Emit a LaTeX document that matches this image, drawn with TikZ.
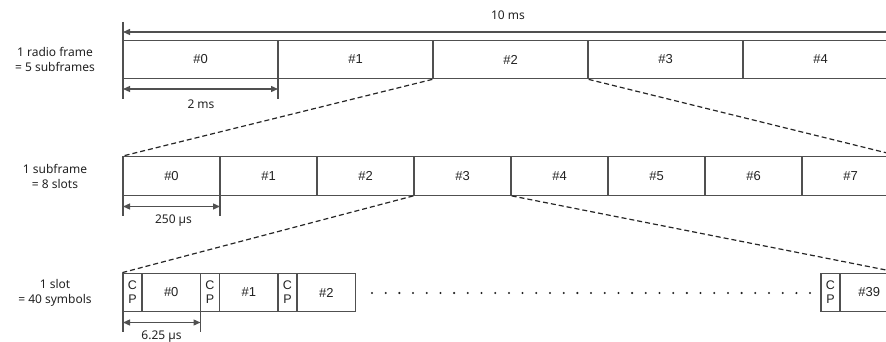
\documentclass[tikz,border=0pt]{standalone}
\usepackage{fontspec}
\setmainfont{Liberation Sans}
\newfontfamily\lblfont{Noto Sans}
\usetikzlibrary{arrows.meta}
\definecolor{edge}{HTML}{505050}
\definecolor{ink}{HTML}{222222}
\tikzset{
  cell/.style={draw=edge, line width=1.3pt, minimum height=38.5pt, inner sep=0pt,
    text=ink, font=\fontsize{13}{14}\selectfont},
  cpcell/.style={cell, minimum width=19pt, align=center,
    font=\fontsize{12.5}{14}\selectfont},
  symcell/.style={cell, minimum width=58.5pt},
  zoomline/.style={draw=black!85, line width=1.2pt, dash pattern=on 5pt off 3pt},
  dimline/.style={draw=edge, line width=1.3pt, {Triangle[length=7pt,width=6pt]}-{Triangle[length=7pt,width=6pt]}},
  tickline/.style={draw=edge, line width=1.3pt},
  sidelabel/.style={align=center, text=ink, inner sep=0pt,
    font=\lblfont\fontsize{12}{15}\selectfont},
  dimlabel/.style={text=ink, inner sep=0pt, font=\lblfont\fontsize{12}{14}\selectfont}
}
\begin{document}
\begin{tikzpicture}[x=1pt, y=-1pt]
\useasboundingbox (0,0) rectangle (886,342);
\clip (0,0) rectangle (886,342);

% ---- radio frame: 5 subframes ----
\foreach \i in {0,...,4}
  \node[cell, minimum width=155pt] (sf\i) at ({123+155*(\i+0.5)},59.5) {\#\i};

% ---- subframe: 8 slots ----
\foreach \i in {0,...,7}
  \node[cell, minimum width=97pt] (sl\i) at ({123+97*(\i+0.5)},176) {\#\i};

% ---- slot: CP + symbol pairs ----
\foreach \i in {0,1,2} {
  \node[cpcell] (cp\i) at ({132.5+77.5*\i},292.5) {C\\P};
  \node[symcell] (sym\i) at ({171.25+77.5*\i},292.5) {\#\i};
}
\node[cpcell] (cp39) at (830.5,292.5) {C\\P};
\node[symcell] (sym39) at (869.25,292.5) {\#39};

% ellipsis between symbol #2 and #39
\foreach \k in {0,...,32}
  \fill[ink] ({372+13.69*\k},293) circle (1.15pt);

% ---- zoom-in guides ----
\draw[zoomline] (sf2.south west) -- (sl0.north west);
\draw[zoomline] (sf2.south east) -- (sl7.north east);
\draw[zoomline] (sl3.south west) -- (cp0.north west);
\draw[zoomline] (sl3.south east) -- (sym39.north east);

% ---- side labels ----
\node[sidelabel] (lab1) at (55,59.5) {1 radio frame\\= 5 subframes};
\node[sidelabel] (lab2) at (55,176) {1 subframe\\= 8 slots};
\node[sidelabel] (lab3) at (55,292.5) {1 slot\\= 40 symbols};

% ---- dimension: 10 ms ----
\coordinate (fA) at (123,22);  \coordinate (fB) at (123,99);
\coordinate (fC) at (898,22);  \coordinate (fD) at (898,40);
\coordinate (a10L) at (123,32); \coordinate (a10R) at (898,32);
\draw[tickline] (fA) -- (fB);
\draw[tickline] (fC) -- (fD);
\draw[dimline] (a10L) -- (a10R);
\node[dimlabel] (t10) at (508,15) {10 ms};

% ---- dimension: 2 ms ----
\coordinate (sA) at (278,79); \coordinate (sB) at (278,99);
\coordinate (a2L) at (123,89); \coordinate (a2R) at (278,89);
\draw[tickline] (sA) -- (sB);
\draw[dimline] (a2L) -- (a2R);
\node[dimlabel] (t2) at (201,104) {2 ms};

% ---- dimension: 250 us ----
\coordinate (gA) at (123,157); \coordinate (gB) at (123,216);
\coordinate (gC) at (220,195); \coordinate (gD) at (220,216);
\coordinate (a250L) at (123,206.5); \coordinate (a250R) at (220,206.5);
\draw[tickline] (gA) -- (gB);
\draw[tickline] (gC) -- (gD);
\draw[dimline] (a250L) -- (a250R);
\node[dimlabel] (t250) at (173.5,221) {250 µs};

% ---- dimension: 6.25 us ----
\coordinate (hA) at (123,273); \coordinate (hB) at (123,332);
\coordinate (hC) at (200.5,312); \coordinate (hD) at (200.5,332);
\coordinate (a625L) at (123,322.5); \coordinate (a625R) at (200.5,322.5);
\draw[tickline] (hA) -- (hB);
\draw[tickline] (hC) -- (hD);
\draw[dimline] (a625L) -- (a625R);
\node[dimlabel] (t625) at (161.5,337) {6.25 µs};
\end{tikzpicture}
\end{document}
